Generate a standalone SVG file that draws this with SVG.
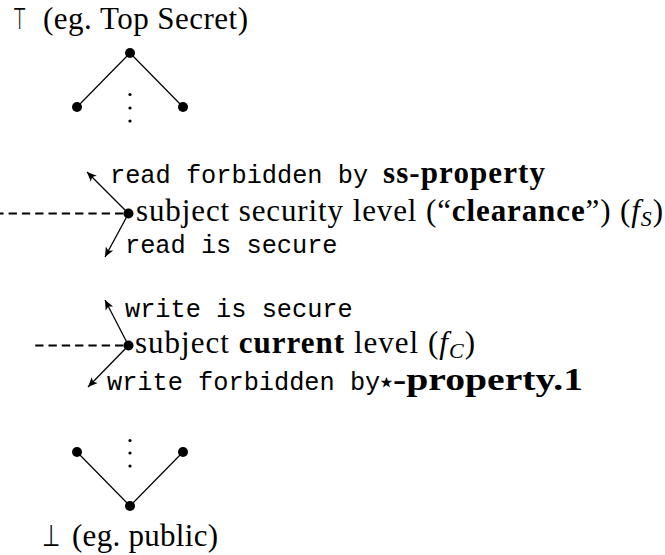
<svg xmlns="http://www.w3.org/2000/svg" width="665" height="555" viewBox="0 0 665 555">
<style>
.serif{font-family:"Liberation Serif","DejaVu Serif",serif;font-size:31px;fill:#000}
.mono{font-family:"Liberation Mono","DejaVu Sans Mono",monospace;font-size:25.3px;fill:#000}
.bold{font-weight:bold}
.sym{font-family:"DejaVu Sans",sans-serif;font-size:30px;fill:#000}
.edge{stroke:#000;stroke-width:1.2;fill:none}
.arrow{stroke:#000;stroke-width:1.3;fill:none;marker-end:url(#ah)}
.dash{stroke:#000;stroke-width:2.2;fill:none;stroke-dasharray:8.3 5}
.dot{fill:#000}
</style>
<defs>
<marker id="ah" markerUnits="userSpaceOnUse" markerWidth="12" markerHeight="10" viewBox="-9 -4 10 8" refX="0" refY="0" orient="auto">
<path d="M0,0 L-8,-3.5 L-6,0 L-8,3.5 Z" fill="#000"/>
</marker>
</defs>
<rect width="665" height="555" fill="#fff"/>

<g id="top">
<text class="sym" x="12.7" y="29" textLength="13.5" lengthAdjust="spacingAndGlyphs">⊤</text>
<text class="serif" x="43" y="29" textLength="205">(eg.  Top Secret)</text>
<line class="edge" x1="130" y1="53" x2="77" y2="107"/>
<line class="edge" x1="130" y1="53" x2="183" y2="107"/>
<circle class="dot" cx="130" cy="53" r="5"/>
<circle class="dot" cx="77" cy="107" r="5"/>
<circle class="dot" cx="183" cy="107" r="5"/>
<circle class="dot" cx="130" cy="94.5" r="1.6"/>
<circle class="dot" cx="130" cy="108" r="1.6"/>
<circle class="dot" cx="130" cy="121" r="1.6"/>
</g>

<g id="connectors">
<line class="dash" x1="-4.7" y1="213.5" x2="128" y2="213.5"/>
<line class="arrow" x1="128.5" y1="213.5" x2="87" y2="172"/>
<line class="arrow" x1="128.5" y1="213.5" x2="105" y2="257"/>
<line class="dash" x1="35.2" y1="345.5" x2="128" y2="345.5"/>
<line class="arrow" x1="128.5" y1="345.5" x2="105" y2="300"/>
<line class="arrow" x1="128.5" y1="345.5" x2="88" y2="387"/>
</g>

<g id="clearance">
<circle class="dot" cx="128.5" cy="213.5" r="5"/>
<text class="mono" x="110" y="183">read forbidden by</text>
<text class="serif bold" x="383" y="183" textLength="162">ss-property</text>
<text class="serif" x="136" y="221" textLength="527">subject security level (“<tspan class="bold">clearance</tspan>”) (<tspan font-style="italic">f</tspan><tspan font-style="italic" font-size="22" dy="5">S</tspan><tspan dy="-5">)</tspan></text>
<text class="mono" x="125" y="253">read is secure</text>
</g>

<g id="current">
<circle class="dot" cx="128.5" cy="345.5" r="5"/>
<text class="mono" x="125" y="317">write is secure</text>
<text class="serif" x="135" y="353" textLength="340">subject <tspan class="bold">current</tspan> level (<tspan font-style="italic">f</tspan><tspan font-style="italic" font-size="22" dy="5">C</tspan><tspan dy="-5">)</tspan></text>
<text class="mono" x="107" y="390">write forbidden by</text>
<text class="sym" font-size="24" text-anchor="middle" x="386.5" y="392">⋆</text>
<text class="serif bold" x="393" y="390" textLength="190" lengthAdjust="spacingAndGlyphs">-property.1</text>
</g>

<g id="bottom">
<line class="edge" x1="77" y1="452" x2="130" y2="506"/>
<line class="edge" x1="183" y1="452" x2="130" y2="506"/>
<circle class="dot" cx="77" cy="452" r="5"/>
<circle class="dot" cx="183" cy="452" r="5"/>
<circle class="dot" cx="130" cy="506" r="5"/>
<circle class="dot" cx="130" cy="440.5" r="1.6"/>
<circle class="dot" cx="130" cy="453" r="1.6"/>
<circle class="dot" cx="130" cy="466" r="1.6"/>
<text class="sym" x="42" y="546" textLength="18" lengthAdjust="spacingAndGlyphs">⊥</text>
<text class="serif" x="72" y="546" textLength="146">(eg.  public)</text>
</g>
</svg>
